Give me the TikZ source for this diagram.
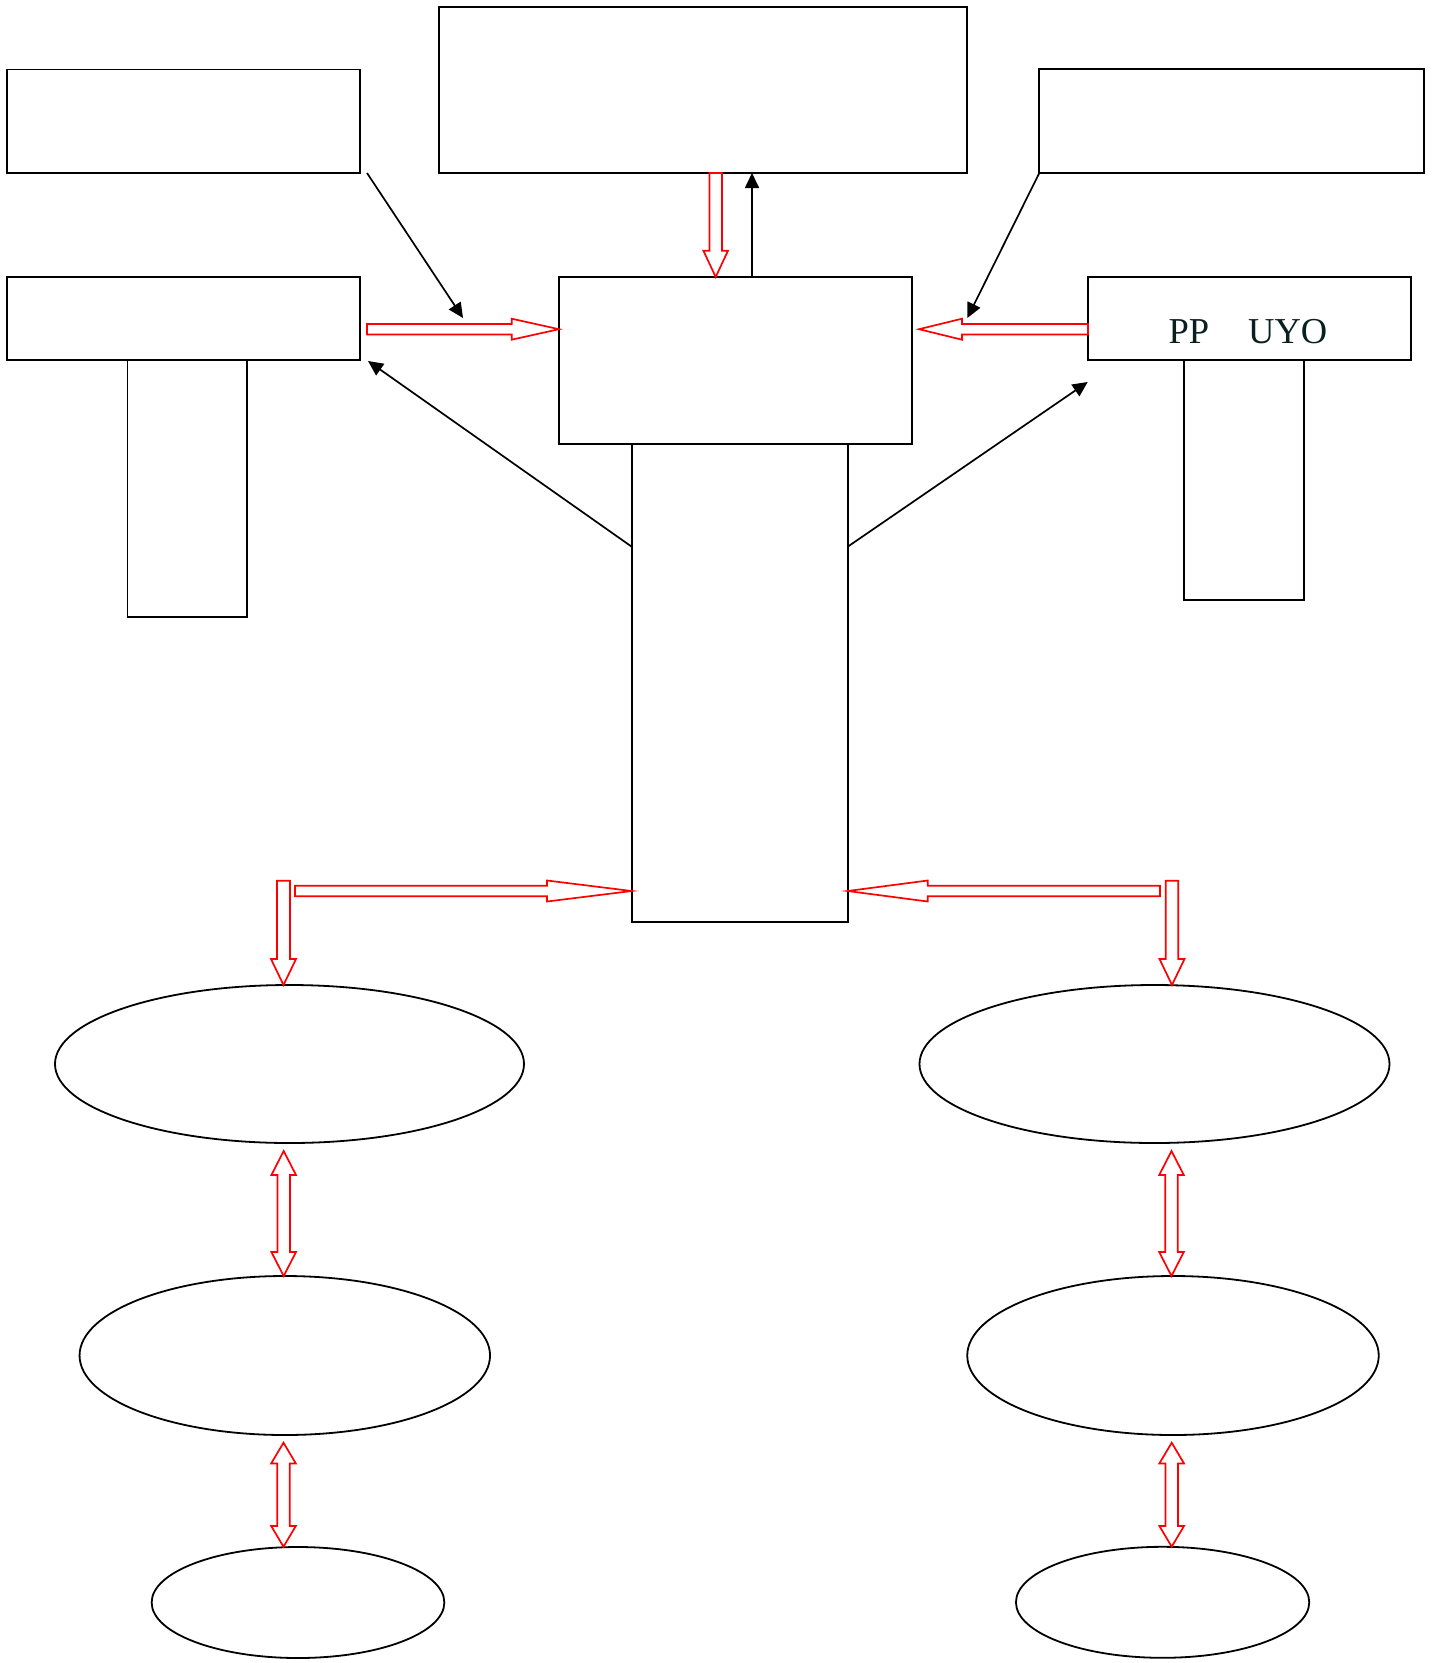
\documentclass[tikz,border=0pt]{standalone}
\usepackage{fontspec}
\setmainfont{Liberation Serif}
\usetikzlibrary{shapes.geometric,arrows.meta}
\definecolor{textdark}{RGB}{10,32,32}
\tikzset{
  box/.style={draw, line width=1.8pt, rectangle, inner sep=0pt, outer sep=0pt, anchor=north west},
  oval/.style={draw, ellipse, line width=1.8pt, inner sep=0pt, outer sep=0pt},
  conn/.style={draw, line width=1.7pt, -{Triangle[length=15pt,width=14pt]}},
  blockred/.style={draw=red, line width=1.7pt, line join=miter, fill=white}
}
% horizontal block arrow: x1, xtip, y, shaft half, head half, head length
\newcommand\arrH[6]{%
  \pgfmathsetmacro\hbase{#2-#6*sign(#2-#1)}%
  \draw[blockred] (#1,#3-#4) -- (\hbase,#3-#4) -- (\hbase,#3-#5) -- (#2,#3)
    -- (\hbase,#3+#5) -- (\hbase,#3+#4) -- (#1,#3+#4) -- cycle;}
% vertical block arrow: x, y1, ytip, shaft half, head half, head length
\newcommand\arrV[6]{%
  \pgfmathsetmacro\hbase{#3-#6*sign(#3-#2)}%
  \draw[blockred] (#1-#4,#2) -- (#1-#4,\hbase) -- (#1-#5,\hbase) -- (#1,#3)
    -- (#1+#5,\hbase) -- (#1+#4,\hbase) -- (#1+#4,#2) -- cycle;}
% vertical double block arrow: x, ytop tip, ybottom tip, shaft half, head half, head length
\newcommand\arrVV[6]{%
  \draw[blockred] (#1,#2) -- (#1+#5,#2+#6) -- (#1+#4,#2+#6) -- (#1+#4,#3-#6)
    -- (#1+#5,#3-#6) -- (#1,#3) -- (#1-#5,#3-#6) -- (#1-#4,#3-#6)
    -- (#1-#4,#2+#6) -- (#1-#5,#2+#6) -- cycle;}
\begin{document}
\begin{tikzpicture}[x=1pt,y=-1pt]
\useasboundingbox (0,0) rectangle (1435,1663);
% boxes
\node[box, minimum width=353pt, minimum height=103.5pt] (A) at (7,69.5) {};
\node[box, minimum width=528.3pt, minimum height=166.3pt] (B) at (439,6.7) {};
\node[box, minimum width=384.7pt, minimum height=103.7pt] (C) at (1039.3,69.3) {};
\node[box, minimum width=353pt, minimum height=83pt] (D) at (7,277) {};
\node[box, minimum width=119.9pt, minimum height=256.7pt] (Dt) at (127.4,360) {};
\node[box, minimum width=353pt, minimum height=167pt] (E) at (559,277) {};
\node[box, minimum width=216pt, minimum height=478pt] (F) at (631.7,444) {};
\node[box, minimum width=323.3pt, minimum height=83pt] (G) at (1087.7,277) {};
\node[box, minimum width=120pt, minimum height=240.3pt] (Gt) at (1183.7,360) {};
\node[anchor=base west, inner sep=0pt, text=textdark, font=\fontsize{36.5}{40}\selectfont] (lbl) at (1168.4,343.3) {PP\hspace{39pt}UYO};
% ellipses
\node[oval, minimum width=469pt, minimum height=158pt] (L1) at (289.5,1064) {};
\node[oval, minimum width=410.5pt, minimum height=159pt] (L2) at (284.8,1355.5) {};
\node[oval, minimum width=292.7pt, minimum height=111pt] (L3) at (298,1602.5) {};
\node[oval, minimum width=470pt, minimum height=158pt] (R1) at (1154.5,1064) {};
\node[oval, minimum width=411.5pt, minimum height=159pt] (R2) at (1173,1355.5) {};
\node[oval, minimum width=293.3pt, minimum height=111pt] (R3) at (1162.6,1602.3) {};
% connector end points
\coordinate (a1s) at (367,173);
\coordinate (a1e) at (463,318);
\coordinate (a2e) at (967.3,318);
\coordinate (a3s) at (752,277);
\coordinate (a3e) at (752,173);
\coordinate (a4s) at (631.7,546.7);
\coordinate (a4e) at (368,361);
\coordinate (a5s) at (847.7,546.7);
\coordinate (a5e) at (1087.7,382);
% black arrows
\draw[conn] (a1s) -- (a1e);
\draw[conn] (C.south west) -- (a2e);
\draw[conn] (a3s) -- (a3e);
\draw[conn] (a4s) -- (a4e);
\draw[conn] (a5s) -- (a5e);
% red block arrows
\arrV{715.7}{173}{277}{6.3}{12.3}{26.3}
\arrH{367}{559}{329.2}{5.2}{10.5}{47.3}
\arrH{1088}{919}{329.2}{5.2}{10.5}{43}
\arrH{295}{631.7}{891}{5.2}{10.5}{84.7}
\arrV{283.5}{880.7}{985}{6.5}{12.5}{26}
\arrH{1160}{847.7}{891}{5.2}{10.5}{80}
\arrV{1172}{880.7}{985}{6.2}{12.5}{26}
\arrVV{283.7}{1151}{1276}{6.2}{12.3}{24}
\arrVV{283.5}{1442.7}{1546.7}{6.2}{12.3}{20.7}
\arrVV{1171.5}{1151}{1276}{6.2}{12.3}{24}
\arrVV{1171.7}{1442.7}{1546.7}{6.2}{12.3}{20.7}
\end{tikzpicture}
\end{document}
